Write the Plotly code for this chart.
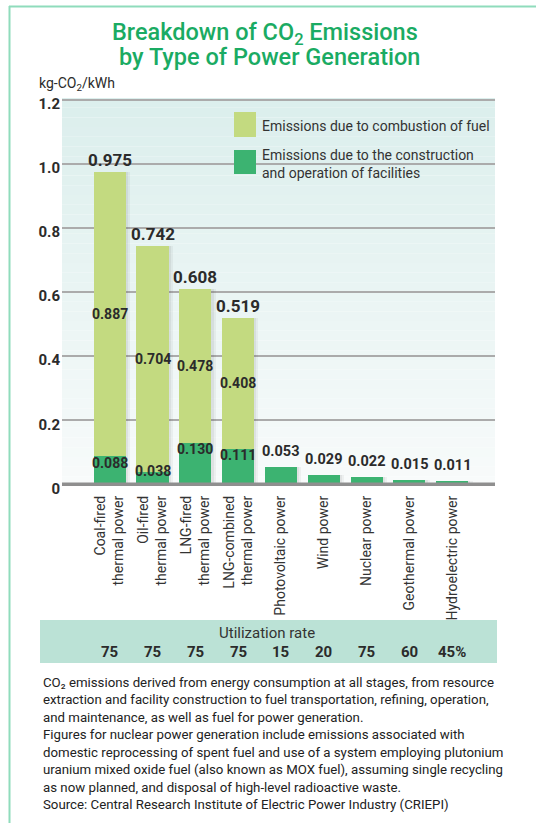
import numpy as np
import plotly.graph_objects as go

# ---------------- data ----------------
categories = ["Coal-fired<br>thermal power", "Oil-fired<br>thermal power",
              "LNG-fired<br>thermal power", "LNG-combined<br>thermal power",
              "Photovoltaic power", "Wind power", "Nuclear power",
              "Geothermal power", "Hydroelectric power"]
facility = [0.088, 0.038, 0.130, 0.111, 0.053, 0.029, 0.022, 0.015, 0.011]
fuel = [0.887, 0.704, 0.478, 0.408, 0.0, 0.0, 0.0, 0.0, 0.0]
utilization = [75, 75, 75, 75, 15, 20, 75, 60, 45]
fuel_name = "Emissions due to combustion of fuel"
facility_name = "Emissions due to the construction<br>and operation of facilities"
y_ticks = [0, 0.2, 0.4, 0.6, 0.8, 1.0, 1.2]
y_ticktext = ["0", "0.2", "0.4", "0.6", "0.8", "1.0", "1.2"]
title_lines = ["Breakdown of CO<sub>2</sub> Emissions", "by Type of Power Generation"]
footnote = [
    "CO₂ emissions derived from energy consumption at all stages, from resource",
    "extraction and facility construction to fuel transportation, refining, operation,",
    "and maintenance, as well as fuel for power generation.",
    "Figures for nuclear power generation include emissions associated with",
    "domestic reprocessing of spent fuel and use of a system employing plutonium",
    "uranium mixed oxide fuel (also known as MOX fuel), assuming single recycling",
    "as now planned, and disposal of high-level radioactive waste.",
    "Source: Central Research Institute of Electric Power Industry (CRIEPI)",
]

# ---------------- layout geometry ----------------
W, H = 536, 823
PL, PR, PT, PB = 62, 495, 98, 486
YMIN, YMAX = -0.005, 1.205

def px(x):
    return (x - PL) / (PR - PL)

def py(y):
    return (PB - y) / (PB - PT)

LIGHT = "#c3da80"
DARK = "#3cb371"
TXT = "#2b2b2b"
FONT = "Roboto"

facility_a = np.array(facility)
fuel_a = np.array(fuel)
totals = facility_a + fuel_a

fig = go.Figure()

# soft shadows
for off, a in [(0.05, 0.07), (0.10, 0.06)]:
    fig.add_trace(go.Bar(x=categories, y=totals, width=0.75, offset=-0.375 + off,
                         marker=dict(color=f"rgba(60,60,60,{a})", line=dict(width=0)),
                         hoverinfo="skip", showlegend=False))

fig.add_trace(go.Bar(x=categories, y=facility, width=0.75, name=facility_name,
                     marker=dict(color=DARK, line=dict(width=0)), showlegend=False))
fig.add_trace(go.Bar(x=categories, y=fuel, base=facility, width=0.75, name=fuel_name,
                     marker=dict(color=LIGHT, line=dict(width=0)), showlegend=False))

shapes = []
# background gradient of plot area
n = 40
top = np.array([220, 239, 237])
bot = np.array([248, 251, 251])
for i in range(n):
    t = i / (n - 1)
    c = (bot * (1 - t) + top * t).astype(int)
    shapes.append(dict(type="rect", xref="paper", yref="paper", x0=0, x1=1,
                       y0=i / n, y1=(i + 1) / n, line=dict(width=0),
                       fillcolor=f"rgb({c[0]},{c[1]},{c[2]})", layer="below"))
# zero line
shapes.append(dict(type="line", xref="paper", yref="y", x0=0, x1=1, y0=0, y1=0,
                   line=dict(color="#8f8f8f", width=4), layer="above"))
# frame lines (border)
shapes.append(dict(type="line", xref="paper", yref="paper", x0=px(9.5), x1=px(9.5),
                   y0=py(6), y1=py(830), line=dict(color="#8fdcbc", width=2)))
shapes.append(dict(type="line", xref="paper", yref="paper", x0=px(9), x1=px(540),
                   y0=py(6.5), y1=py(6.5), line=dict(color="#8fdcbc", width=2)))
# utilization band
shapes.append(dict(type="rect", xref="paper", yref="paper", x0=px(40), x1=px(497),
                   y0=py(663), y1=py(620), line=dict(width=0), fillcolor="#bbe2d6"))
# legend swatches
shapes.append(dict(type="rect", xref="paper", yref="paper", x0=px(234), x1=px(256),
                   y0=py(137), y1=py(112), line=dict(width=0), fillcolor=LIGHT))
shapes.append(dict(type="rect", xref="paper", yref="paper", x0=px(234), x1=px(256),
                   y0=py(174), y1=py(150), line=dict(width=0), fillcolor=DARK))

ann = []
# title (two lines)
ann.append(dict(text=title_lines[0], xref="paper", yref="paper", x=px(265), y=py(34),
                xanchor="center", yanchor="middle", showarrow=False,
                font=dict(family=FONT, size=23.5, color="#1aab63", weight=500)))
ann.append(dict(text=title_lines[1], xref="paper", yref="paper", x=px(269), y=py(57),
                xanchor="center", yanchor="middle", showarrow=False,
                font=dict(family=FONT, size=23.5, color="#1aab63", weight=500)))
# axis title
ann.append(dict(text="kg-CO<sub>2</sub>/kWh", xref="paper", yref="paper", x=px(37),
                y=py(84), xanchor="left", yanchor="middle", showarrow=False,
                font=dict(family=FONT, size=14, color=TXT)))
# legend labels
ann.append(dict(text=fuel_name, xref="paper", yref="paper", x=px(260), y=py(126),
                xanchor="left", yanchor="middle", showarrow=False, align="left",
                font=dict(family=FONT, size=14, color="#333")))
ann.append(dict(text=facility_name, xref="paper", yref="paper", x=px(260), y=py(164),
                xanchor="left", yanchor="middle", showarrow=False, align="left",
                font=dict(family=FONT, size=14, color="#333")))

# value labels
for cat, f, u, tot in zip(categories, facility, fuel, totals):
    if u > 0:
        ann.append(dict(text=f"{tot:.3f}", x=cat, y=tot, xref="x", yref="y",
                        yanchor="bottom", yshift=0, showarrow=False,
                        font=dict(family=FONT, size=17, color=TXT, weight=700)))
        ann.append(dict(text=f"{u:.3f}", x=cat, y=f + u / 2, xref="x", yref="y",
                        yanchor="middle", showarrow=False,
                        font=dict(family=FONT, size=14, color=TXT, weight=700)))
        ann.append(dict(text=f"{f:.3f}", x=cat, y=max(f - 0.02, 0.041), xref="x", yref="y",
                        yanchor="middle", showarrow=False,
                        font=dict(family=FONT, size=14, color=TXT, weight=700)))
    else:
        ann.append(dict(text=f"{f:.3f}", x=cat, y=f, xref="x", yref="y",
                        yanchor="bottom", yshift=5, showarrow=False,
                        font=dict(family=FONT, size=14.5, color=TXT, weight=700)))

# utilization rate row
ann.append(dict(text="Utilization rate", xref="paper", yref="paper", x=px(267), y=py(633),
                xanchor="center", yanchor="middle", showarrow=False,
                font=dict(family=FONT, size=15, color="#333")))
for i, (cat, u) in enumerate(zip(categories, utilization)):
    label = f"{u}%" if i == len(utilization) - 1 else f"{u}"
    ann.append(dict(text=label, x=cat, xref="x", yref="paper", y=py(652),
                    xanchor="center", yanchor="middle", showarrow=False,
                    font=dict(family=FONT, size=15, color=TXT, weight=700)))

# footnote
for i, line in enumerate(footnote):
    ann.append(dict(text=line, xref="paper", yref="paper", x=px(41), y=py(682 + 17.5 * i),
                    xanchor="left", yanchor="middle", showarrow=False, align="left",
                    font=dict(family=FONT, size=13.25, color="#222")))

fig.update_layout(
    width=W, height=H,
    margin=dict(l=PL, r=W - PR, t=PT, b=H - PB, pad=0),
    paper_bgcolor="white", plot_bgcolor="rgba(0,0,0,0)",
    barmode="overlay", bargap=0,
    shapes=shapes, annotations=ann,
    font=dict(family=FONT, color=TXT),
    xaxis=dict(type="category", range=[-1.114, 9.0], tickangle=-90,
               showgrid=False, showline=False, ticks="", zeroline=False,
               tickfont=dict(family=FONT, size=14, color="#333"),
               ticklabelstandoff=6, fixedrange=True),
    yaxis=dict(range=[YMIN, YMAX], tickvals=y_ticks, ticktext=y_ticktext,
               showgrid=True, gridcolor="#ababab", gridwidth=1.6,
               zeroline=False, showline=False, ticks="",
               tickfont=dict(family=FONT, size=15, color=TXT, weight=700),
               ticklabelstandoff=1, ticklabelshift=4, fixedrange=True),
)

fig.write_html("out.html", config={"displayModeBar": False},
               post_script="document.body.style.margin='0';document.body.style.overflow='hidden';")
